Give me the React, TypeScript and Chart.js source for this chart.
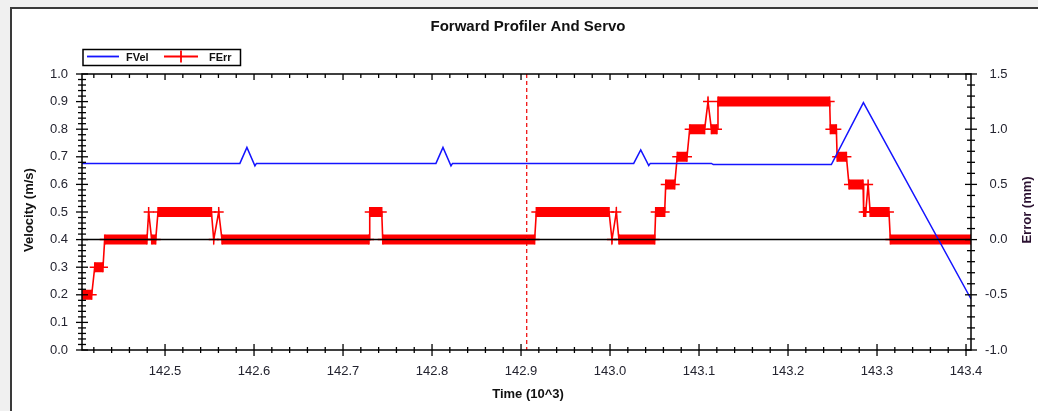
import { useEffect, useRef } from 'react';
import { Chart, registerables } from 'chart.js';

Chart.register(...registerables);

const W = 1038;
const H = 411;

// Axis ranges
const X_MIN = 142.4067;
const X_MAX = 143.4056;
const Y_MIN = 0;
const Y_MAX = 1;
const Y2_MIN = -1;
const Y2_MAX = 1.5;
const CURSOR_TIME = 142.9064;

// Text
const TITLE = 'Forward Profiler And Servo';
const X_TITLE = 'Time (10^3)';
const Y_TITLE = 'Velocity (m/s)';
const Y2_TITLE = 'Error (mm)';

// FVel series (velocity, m/s)
const FVEL_TIME = [
  142.4067, 142.5841, 142.592, 142.601, 142.6027, 142.8044, 142.8123, 142.8213, 142.823,
  143.0266, 143.0345, 143.0435, 143.0452, 143.114, 143.116, 143.2487, 143.2847, 143.4056,
];
const FVEL_VALUE = [
  0.676, 0.676, 0.734, 0.667, 0.676, 0.676, 0.734, 0.667, 0.676,
  0.676, 0.725, 0.668, 0.676, 0.676, 0.672, 0.672, 0.896, 0.185,
];

// FErr series (error, mm) as runs of samples at one level
const FERR_START = [
  142.407, 142.421, 142.4322, 142.4816, 142.485, 142.4921, 142.5547, 142.5603, 142.564,
  142.73, 142.7446, 142.9172, 143.0022, 143.0071, 143.01, 143.0513, 143.0626, 143.0755,
  143.0895, 143.1101, 143.1139, 143.1213, 143.2476, 143.2552, 143.2685, 143.285, 143.29,
  143.2923, 143.315,
];
const FERR_END = [
  142.4176, 142.4303, 142.4797, 142.4816, 142.4895, 142.5521, 142.5547, 142.5603, 142.7292,
  142.7435, 142.9153, 142.9989, 143.0022, 143.0071, 143.0502, 143.0614, 143.0727, 143.0865,
  143.1063, 143.1101, 143.1202, 143.2468, 143.2543, 143.2656, 143.2843, 143.2873, 143.29,
  143.3134, 143.4056,
];
const FERR_LEVEL = [
  -0.5, -0.25, 0, 0.25, 0, 0.25, 0, 0.25, 0,
  0.25, 0, 0.25, 0, 0.25, 0, 0.25, 0.5, 0.75,
  1.0, 1.25, 1.0, 1.25, 1.0, 0.75, 0.5, 0.25, 0.5,
  0.25, 0,
];

const FONT = 'Liberation Sans, Arial, sans-serif';
const TEXT_COLOR = '#23232f';

const isMult = (v: number, step: number) => Math.abs(v / step - Math.round(v / step)) < 1e-6;
const fmt = (v: number) => (Math.abs(v) < 1e-9 ? 0 : v).toFixed(1);

const decorPlugin = {
  id: 'decor',
  beforeDraw(chart: any) {
    const ctx = chart.ctx as CanvasRenderingContext2D;
    ctx.save();
    ctx.fillStyle = '#f0f0f0';
    ctx.fillRect(0, 0, W, H);
    ctx.fillStyle = '#ffffff';
    ctx.fillRect(10, 7, W, H);
    ctx.strokeStyle = '#3a3a3a';
    ctx.lineWidth = 2;
    ctx.beginPath();
    ctx.moveTo(11, H + 5);
    ctx.lineTo(11, 8);
    ctx.lineTo(W + 5, 8);
    ctx.stroke();
    ctx.restore();
  },
  afterDatasetsDraw(chart: any) {
    const ctx = chart.ctx as CanvasRenderingContext2D;
    const a = chart.chartArea;
    const xs = chart.scales.x;
    const ys = chart.scales.y;
    const y2s = chart.scales.y2;
    const line = (x1: number, y1: number, x2: number, y2: number) => {
      ctx.beginPath();
      ctx.moveTo(x1, y1);
      ctx.lineTo(x2, y2);
      ctx.stroke();
    };
    ctx.save();
    // zero error line
    const yz = y2s.getPixelForValue(0);
    ctx.strokeStyle = '#000000';
    ctx.lineWidth = 1.5;
    line(a.left, yz, a.right, yz);
    // cursor
    const cx = xs.getPixelForValue(CURSOR_TIME);
    ctx.strokeStyle = '#ee0000';
    ctx.lineWidth = 1.2;
    ctx.setLineDash([4, 3]);
    line(cx, a.top, cx, a.bottom);
    ctx.setLineDash([]);
    // frame
    ctx.strokeStyle = '#000000';
    ctx.lineWidth = 1.5;
    ctx.strokeRect(a.left, a.top, a.right - a.left, a.bottom - a.top);
    // ticks
    ctx.lineWidth = 1.3;
    xs.ticks.forEach((t: any) => {
      const px = xs.getPixelForValue(t.value);
      const major = isMult(t.value, 0.1);
      const l = major ? 6 : 3;
      line(px, a.bottom - l, px, a.bottom + l);
      line(px, a.top, px, a.top + (major ? 6 : 4));
    });
    ys.ticks.forEach((t: any) => {
      const py = ys.getPixelForValue(t.value);
      const l = isMult(t.value, 0.1) ? 6 : 4;
      line(a.left - l, py, a.left + l, py);
    });
    y2s.ticks.forEach((t: any) => {
      const py = y2s.getPixelForValue(t.value);
      const l = isMult(t.value, 0.5) ? 6 : 4;
      line(a.right - l, py, a.right + l, py);
    });
    // titles
    ctx.fillStyle = '#111111';
    ctx.textBaseline = 'middle';
    ctx.textAlign = 'center';
    ctx.font = `bold 15px ${FONT}`;
    ctx.fillText(TITLE, 528, 27);
    ctx.font = `bold 13px ${FONT}`;
    ctx.fillText(X_TITLE, 528, 394);
    ctx.save();
    ctx.translate(29, 210);
    ctx.rotate(-Math.PI / 2);
    ctx.fillText(Y_TITLE, 0, 0);
    ctx.restore();
    ctx.save();
    ctx.translate(1027, 210);
    ctx.rotate(-Math.PI / 2);
    ctx.fillStyle = '#2a1030';
    ctx.fillText(Y2_TITLE, 0, 0);
    ctx.restore();
    // legend
    const ds = chart.data.datasets;
    ctx.strokeStyle = '#000000';
    ctx.lineWidth = 1.5;
    ctx.strokeRect(83, 49.5, 157.5, 16);
    ctx.strokeStyle = ds[0].borderColor;
    ctx.lineWidth = 1.8;
    line(87, 56.5, 119, 56.5);
    ctx.strokeStyle = ds[1].borderColor;
    line(164, 56.5, 198, 56.5);
    line(181, 50.5, 181, 62.5);
    ctx.fillStyle = '#111111';
    ctx.textAlign = 'left';
    ctx.font = `bold 11px ${FONT}`;
    ctx.fillText(ds[0].label, 126, 57.5);
    ctx.fillText(ds[1].label, 209, 57.5);
    ctx.restore();
  },
};

export default function App() {
  const ref = useRef<HTMLCanvasElement | null>(null);

  useEffect(() => {
    if (!ref.current) return;
    const velPoints = FVEL_TIME.map((t, i) => ({ x: t, y: FVEL_VALUE[i] }));
    const errPoints: { x: number; y: number }[] = [];
    const barPoints: { x: number; y: number | null }[] = [];
    FERR_START.forEach((s, i) => {
      const e = FERR_END[i];
      const lv = FERR_LEVEL[i];
      errPoints.push({ x: s, y: lv });
      if (e > s) {
        errPoints.push({ x: e, y: lv });
        barPoints.push({ x: s, y: lv });
        barPoints.push({ x: e, y: lv });
        barPoints.push({ x: e, y: null });
      }
    });

    const tickFont = { family: FONT, size: 13 };

    const chart = new Chart(ref.current, {
      type: 'line',
      data: {
        datasets: [
          {
            label: 'FVel',
            data: velPoints,
            yAxisID: 'y',
            borderColor: '#1414ff',
            borderWidth: 1.5,
            pointRadius: 0,
            tension: 0,
            fill: false,
          },
          {
            label: 'FErr',
            data: errPoints,
            yAxisID: 'y2',
            borderColor: '#ff0000',
            borderWidth: 1.6,
            pointStyle: 'cross',
            pointRadius: 5,
            pointBorderWidth: 1.5,
            pointBorderColor: '#ff0000',
            pointBackgroundColor: '#ff0000',
            tension: 0,
            fill: false,
            clip: 0,
          },
          {
            label: 'FErr samples',
            data: barPoints,
            yAxisID: 'y2',
            borderColor: '#ff0000',
            borderWidth: 10,
            borderCapStyle: 'butt',
            pointRadius: 0,
            tension: 0,
            fill: false,
            spanGaps: false,
            clip: 0,
          },
        ],
      } as any,
      options: {
        responsive: false,
        animation: false,
        devicePixelRatio: 1,
        events: [],
        layout: { padding: { left: 0, right: 30.5, top: 74, bottom: 0 } },
        plugins: {
          legend: { display: false },
          title: { display: false },
          tooltip: { enabled: false },
        },
        scales: {
          x: {
            type: 'linear',
            min: X_MIN,
            max: X_MAX,
            grid: { display: false, drawTicks: false },
            border: { display: false },
            ticks: {
              stepSize: 0.02,
              includeBounds: false,
              autoSkip: false,
              maxRotation: 0,
              padding: 14,
              font: tickFont,
              color: TEXT_COLOR,
              callback: (v: any) => (isMult(Number(v), 0.1) ? fmt(Number(v)) : ''),
            },
            afterFit: (s: any) => {
              s.height = H - 350;
            },
          },
          y: {
            type: 'linear',
            position: 'left',
            min: Y_MIN,
            max: Y_MAX,
            grid: { display: false, drawTicks: false },
            border: { display: false },
            ticks: {
              stepSize: 0.02,
              autoSkip: false,
              padding: 14,
              font: tickFont,
              color: TEXT_COLOR,
              callback: (v: any) => (isMult(Number(v), 0.1) ? fmt(Number(v)) : ''),
            },
            afterFit: (s: any) => {
              s.width = 82;
            },
          },
          y2: {
            type: 'linear',
            position: 'right',
            min: Y2_MIN,
            max: Y2_MAX,
            grid: { display: false, drawTicks: false },
            border: { display: false },
            ticks: {
              stepSize: 0.1,
              autoSkip: false,
              crossAlign: 'far',
              font: tickFont,
              color: TEXT_COLOR,
              callback: (v: any) => (isMult(Number(v), 0.5) ? fmt(Number(v)) : ''),
            },
            afterFit: (s: any) => {
              s.width = 36.5;
            },
          },
        },
      } as any,
      plugins: [decorPlugin],
    });
    return () => chart.destroy();
  }, []);

  return (
    <div style={{ position: 'fixed', left: 0, top: 0, width: W, height: H, overflow: 'hidden' }}>
      <canvas ref={ref} width={W} height={H} style={{ display: 'block', width: W, height: H }} />
    </div>
  );
}
